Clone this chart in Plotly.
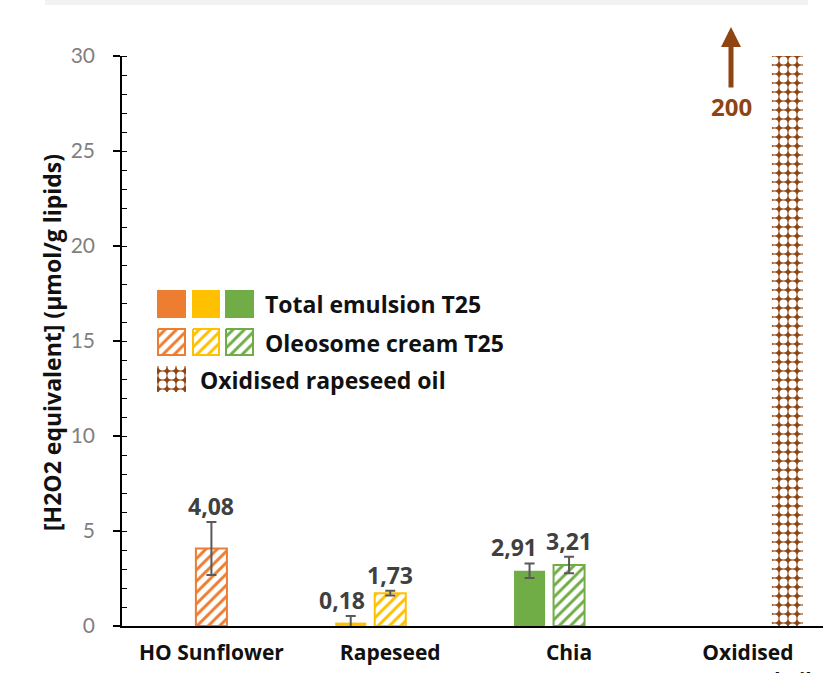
import plotly.graph_objects as go

# ---------------- data ----------------
categories = ["HO Sunflower", "Rapeseed", "Chia", "Oxidised<br>rapeseed oil"]
total_emulsion = [None, 0.18, 2.91, None]
total_emulsion_err = [None, 0.35, 0.38, None]
oleosome_cream = [4.08, 1.73, 3.21, None]
oleosome_cream_err = [1.40, 0.12, 0.44, None]
oxidised_oil = [None, None, None, 200]
oxidised_label = "200"
series_names = ["Total emulsion T25", "Oleosome cream T25", "Oxidised rapeseed oil"]
y_ticks = [0, 5, 10, 15, 20, 25, 30]

# ---------------- style ----------------
W, H = 823, 673
ML, MT, MB, MR = 122, 56, 47, 0
PW, PH = W - ML - MR, H - MT - MB
XR = [-0.5, 3.42]
BARGAP = 0.337
GROUPGAP = 0.215
PXU = PW / (XR[1] - XR[0])
SLOT = (1 - BARGAP) / 3 * PXU

ORANGE, YELLOW, GREEN = "#ED7D31", "#FFC000", "#70AD47"
BROWN = "#8F4512"
total_colors = [ORANGE, YELLOW, GREEN, GREEN]
BOLD = "Open Sans"
LABEL_GREY = "#404040"
CHECK = dict(shape=".", fgcolor="white", bgcolor=BROWN, size=9, solidity=0.62,
             fgopacity=1)
HATCH = dict(shape="/", bgcolor="white", size=8, solidity=0.36, fgopacity=1)

fig = go.Figure()

fig.add_trace(go.Bar(
    x=categories, y=total_emulsion, name=series_names[0],
    marker=dict(color=total_colors, line=dict(width=0)),
    error_y=dict(type="data", array=total_emulsion_err, color="#595959",
                 thickness=2, width=5),
    showlegend=False,
))
fig.add_trace(go.Bar(
    x=categories, y=oleosome_cream, name=series_names[1],
    marker=dict(color="white", line=dict(color=total_colors, width=2),
                pattern=dict(fgcolor=total_colors, **HATCH)),
    error_y=dict(type="data", array=oleosome_cream_err, color="#595959",
                 thickness=2, width=5),
    showlegend=False,
))
fig.add_trace(go.Bar(
    x=categories, y=oxidised_oil, name=series_names[2],
    marker=dict(color=BROWN, line=dict(width=0), pattern=CHECK),
    showlegend=False,
))

# value labels
nudges_total = [0, -9, -16, 0]
nudges_oleo = [0, 0, 0, 0]
for vals, errs, off, nud in [(total_emulsion, total_emulsion_err, -SLOT, nudges_total),
                             (oleosome_cream, oleosome_cream_err, 0, nudges_oleo)]:
    for c, v, e, n in zip(categories, vals, errs, nud):
        if v is None:
            continue
        fig.add_annotation(
            x=c, y=v + (e or 0), xref="x", yref="y",
            text=f"{v:.2f}".replace(".", ","), showarrow=False,
            xshift=off + n, yshift=16, yanchor="middle", xanchor="center",
            font=dict(family=BOLD, size=23, color=LABEL_GREY, weight="bold"),
        )

# ---------------- custom legend (pixel coordinates on hidden overlay axes) ----------------
def square(x0, x1, y0, y1, **kw):
    fig.add_trace(go.Scatter(
        x=[x0, x1, x1, x0, x0], y=[y0, y0, y1, y1, y0],
        xaxis="x2", yaxis="y2", mode="lines", fill="toself",
        hoverinfo="skip", showlegend=False, **kw))

cols = [(157, 186), (192, 220), (225, 254)]
for (x0, x1), c in zip(cols, total_colors[:3]):
    square(x0, x1, 290, 318, fillcolor=c, line=dict(width=0, color=c))
for (x0, x1), c in zip(cols, total_colors[:3]):
    square(x0 + 1, x1 - 1, 329, 355, fillcolor="white",
           fillpattern=dict(fgcolor=c, **HATCH),
           line=dict(width=2, color=c))
square(157, 186, 366, 392, fillcolor=BROWN, fillpattern=CHECK,
       line=dict(width=0, color=BROWN))

leg_font = dict(family=BOLD, size=23, color="#111111", weight="bold")
for txt, xx, yy in [(series_names[0], 263, 304), (series_names[1], 263, 343),
                    (series_names[2], 198, 380)]:
    fig.add_annotation(x=xx, y=yy, xref="x2", yref="y2", text=txt, showarrow=False,
                       xanchor="left", yanchor="middle", font=leg_font)

# arrow + 200 label
arrow_x = (731 - ML) / PW
fig.add_annotation(x=arrow_x, y=(H - MB - 27) / PH, xref="paper", yref="paper",
                   text="", showarrow=True, ax=0, ay=62, arrowhead=2,
                   arrowsize=0.8, arrowwidth=5, arrowcolor=BROWN)
fig.add_annotation(x=arrow_x, y=(H - MB - 107) / PH, xref="paper", yref="paper",
                   text=oxidised_label, showarrow=False, yanchor="middle",
                   xanchor="center",
                   font=dict(family=BOLD, size=24, color=BROWN, weight="bold"))

# y-axis title
fig.add_annotation(x=(52 - ML) / PW, y=(H - MB - 343) / PH, xref="paper", yref="paper",
                   text="[H2O2 equivalent] (µmol/g lipids)", textangle=-90,
                   showarrow=False, xanchor="center", yanchor="middle",
                   font=dict(family=BOLD, size=23, color="#111111", weight="bold"))

# top grey band
fig.add_shape(type="rect", xref="paper", yref="paper",
              x0=(45 - ML) / PW, x1=(808 - ML) / PW,
              y0=(H - MB - 5) / PH, y1=(H - MB + 1) / PH,
              fillcolor="#F2F2F2", line=dict(width=0), layer="below")

fig.update_layout(
    width=W, height=H,
    margin=dict(l=ML, r=MR, t=MT, b=MB, autoexpand=False),
    plot_bgcolor="white", paper_bgcolor="white",
    barmode="group", bargap=BARGAP, bargroupgap=GROUPGAP,
    showlegend=False,
    xaxis=dict(range=XR, showline=True, linecolor="black", linewidth=2,
               ticks="", showgrid=False, zeroline=False, ticklabelstandoff=7,
               tickfont=dict(family=BOLD, size=21, color="#111111", weight="bold"),
               automargin=False),
    yaxis=dict(range=[0, 30], tickvals=y_ticks, showline=True, linecolor="black",
               linewidth=1.5, ticks="outside", ticklen=7, tickwidth=1.5,
               tickcolor="black", showgrid=False, zeroline=False,
               ticklabelstandoff=14,
               minor=dict(dtick=1, ticks="inside", ticklen=5, tickwidth=1.2,
                          tickcolor="black"),
               tickfont=dict(family="Lato", size=21, color="#7F7F7F"),
               automargin=False),
    yaxis3=dict(range=[0, 30], overlaying="y", anchor="x", side="left",
                tickvals=y_ticks, showticklabels=False, ticks="inside", ticklen=8,
                tickwidth=1.5, tickcolor="black", showgrid=False, zeroline=False,
                showline=False),
    xaxis2=dict(range=[ML, W - MR], overlaying="x", anchor="y2", visible=False,
                fixedrange=True),
    yaxis2=dict(range=[H - MB, MT], overlaying="y", anchor="x2", visible=False,
                fixedrange=True),
)

fig.write_html("out.html", config={"displayModeBar": False},
               post_script="document.body.style.margin='0';")
